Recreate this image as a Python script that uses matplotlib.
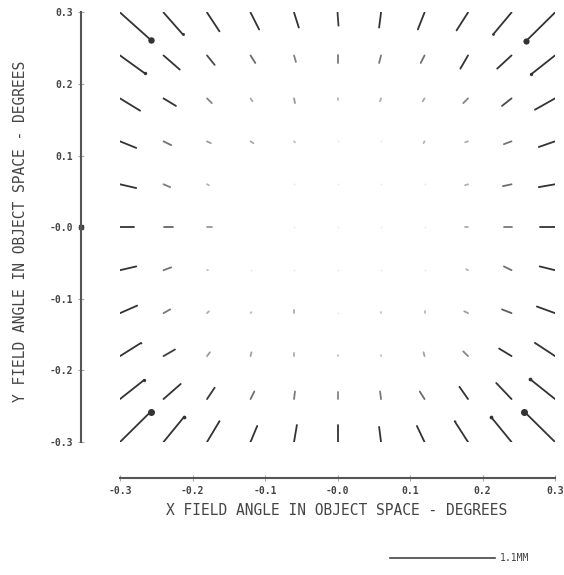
import numpy as np
import matplotlib.pyplot as plt

# field grid (degrees), rows top to bottom
X_FIELD = [-0.30, -0.24, -0.18, -0.12, -0.06, 0.00, 0.06, 0.12, 0.18, 0.24, 0.30]
Y_FIELD = [0.30, 0.24, 0.18, 0.12, 0.06, 0.00, -0.06, -0.12, -0.18, -0.24, -0.30]

# image displacement at each field point (mm)
DX_MM = [
    [0.32, 0.20, 0.13, 0.09, 0.05, 0.01, -0.02, -0.07, -0.12, -0.19, -0.30],
    [0.26, 0.17, 0.08, 0.05, 0.02, 0.00, -0.02, -0.04, -0.08, -0.15, -0.25],
    [0.21, 0.13, 0.05, 0.02, 0.01, 0.00, -0.01, -0.02, -0.05, -0.10, -0.21],
    [0.17, 0.08, 0.04, 0.03, 0.01, 0.00, 0.00, -0.01, -0.03, -0.08, -0.17],
    [0.17, 0.07, 0.02, 0.01, 0.00, 0.00, 0.00, 0.00, -0.03, -0.09, -0.17],
    [0.15, 0.10, 0.05, 0.01, 0.00, 0.00, 0.00, 0.00, -0.03, -0.08, -0.16],
    [0.17, 0.08, 0.01, 0.00, 0.00, 0.00, 0.00, 0.00, -0.02, -0.08, -0.16],
    [0.18, 0.07, 0.02, 0.01, 0.00, 0.00, 0.00, 0.00, -0.04, -0.10, -0.19],
    [0.22, 0.12, 0.03, 0.01, 0.00, 0.00, 0.00, -0.01, -0.05, -0.13, -0.21],
    [0.25, 0.18, 0.08, 0.04, 0.01, 0.00, -0.01, -0.05, -0.09, -0.16, -0.26],
    [0.32, 0.21, 0.13, 0.07, 0.03, 0.00, -0.02, -0.08, -0.14, -0.21, -0.32],
]
DY_MM = [
    [-0.29, -0.23, -0.20, -0.18, -0.16, -0.14, -0.16, -0.18, -0.19, -0.23, -0.30],
    [-0.19, -0.15, -0.10, -0.08, -0.07, -0.08, -0.08, -0.08, -0.14, -0.14, -0.20],
    [-0.13, -0.08, -0.05, -0.03, -0.05, -0.02, -0.03, -0.03, -0.05, -0.08, -0.12],
    [-0.07, -0.04, -0.02, -0.02, -0.01, 0.00, 0.00, -0.02, -0.01, -0.03, -0.06],
    [-0.04, -0.03, -0.01, 0.00, 0.00, 0.00, 0.00, 0.00, -0.01, -0.02, -0.03],
    [0.00, 0.00, 0.00, 0.00, 0.00, 0.00, 0.00, 0.00, 0.00, 0.00, 0.00],
    [0.04, 0.03, 0.00, 0.00, 0.00, 0.00, 0.00, 0.00, 0.01, 0.04, 0.04],
    [0.08, 0.04, 0.02, 0.01, 0.03, 0.00, 0.01, 0.02, 0.02, 0.04, 0.07],
    [0.14, 0.07, 0.04, 0.04, 0.03, 0.01, 0.01, 0.04, 0.05, 0.08, 0.14],
    [0.20, 0.16, 0.12, 0.08, 0.08, 0.07, 0.08, 0.08, 0.13, 0.17, 0.21],
    [0.32, 0.26, 0.22, 0.17, 0.18, 0.18, 0.16, 0.17, 0.22, 0.26, 0.32],
]

X_TICKS = [-0.3, -0.2, -0.1, 0.0, 0.1, 0.2, 0.3]
X_TICK_LABELS = ['-0.3', '-0.2', '-0.1', '-0.0', '0.1', '0.2', '0.3']
Y_TICKS = [0.3, 0.2, 0.1, 0.0, -0.1, -0.2, -0.3]
Y_TICK_LABELS = ['0.3', '0.2', '0.1', '-0.0', '-0.1', '-0.2', '-0.3']
SCALE_MM = 1.1

MONO = 'DejaVu Sans Mono'
INK = '#444444'

fig = plt.figure(figsize=(5.64, 5.75), dpi=100)
ax = fig.add_axes([0.2128, 0.2313, 0.7713, 0.747])
ax.set_xlim(-0.3, 0.3)
ax.set_ylim(-0.3, 0.3)

bar_len = 0.145  # length of the scale bar in field degrees
deg_per_mm = bar_len / SCALE_MM

for i, y in enumerate(Y_FIELD):
    for j, x in enumerate(X_FIELD):
        dx = DX_MM[i][j]
        dy = DY_MM[i][j]
        length = np.hypot(dx, dy)
        if length == 0:
            ax.plot(x, y, 'o', ms=1.5, color='0.93', mec='none')
            continue
        g = float(np.clip(0.8 - 4 * length, 0.2, 0.8))
        x1 = x + dx * deg_per_mm
        y1 = y + dy * deg_per_mm
        ax.plot([x, x1], [y, y1], color=str(g), lw=1.3,
                solid_capstyle='round')
        if length > 0.25:
            ax.plot(x1, y1, 'o', ms=(length - 0.2) * 20, color=str(g),
                    mec='none')

# axes drawn as separate lines, offset from the field
for side in ['top', 'right']:
    ax.spines[side].set_visible(False)
ax.spines['left'].set_position(('outward', 28))
ax.spines['bottom'].set_position(('outward', 26))
for side in ['left', 'bottom']:
    ax.spines[side].set_color('#555555')
    ax.spines[side].set_linewidth(1.5)

ax.set_xticks(X_TICKS)
ax.set_xticklabels(X_TICK_LABELS)
ax.set_yticks(Y_TICKS)
ax.set_yticklabels(Y_TICK_LABELS)
ax.tick_params(direction='inout', length=5, width=0.8, color='#aaaaaa',
               labelsize=7, labelcolor=INK, pad=3)
for lab in ax.get_xticklabels() + ax.get_yticklabels():
    lab.set_family(MONO)
    lab.set_weight('bold')

# small mark on the y axis at zero
ax.plot(-0.354, 0.0, 's', ms=3.5, color='#444444', clip_on=False)

fig.text(0.596, 0.113, 'X FIELD ANGLE IN OBJECT SPACE - DEGREES',
         ha='center', va='center', family=MONO, fontsize=10.5, color=INK)
fig.text(0.036, 0.598, 'Y FIELD ANGLE IN OBJECT SPACE - DEGREES',
         ha='center', va='center', rotation=90, family=MONO, fontsize=10.5,
         color=INK)

# scale bar
ax.plot([0.072, 0.072 + bar_len], [-0.462, -0.462], color='#444444', lw=1.2,
        clip_on=False)
ax.text(0.224, -0.462, '{}MM'.format(SCALE_MM), ha='left', va='center',
        family=MONO, fontsize=7, color=INK)

fig.savefig('out.png', dpi=100)
